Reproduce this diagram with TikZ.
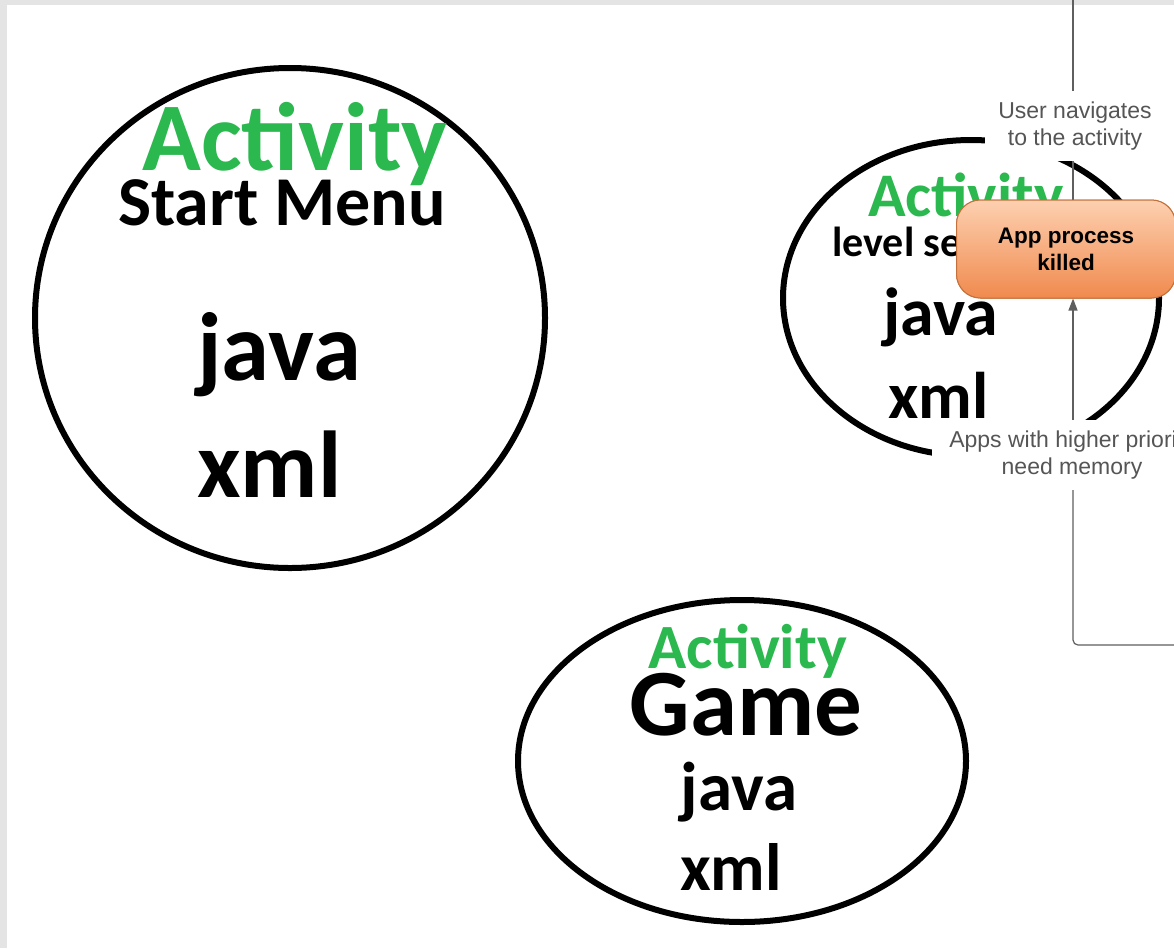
\documentclass[tikz,border=0pt]{standalone}
\usepackage{fontspec}
\setmainfont{Carlito}
\newfontfamily\labelfont{Liberation Sans}
\usetikzlibrary{arrows.meta,shapes.geometric}
\definecolor{actgreen}{RGB}{43,184,78}
\definecolor{linegray}{RGB}{95,95,95}
\definecolor{labgray}{RGB}{85,85,85}
\definecolor{framegray}{RGB}{228,228,228}
\definecolor{killtop}{RGB}{253,208,176}
\definecolor{killbot}{RGB}{240,138,78}
\definecolor{killedge}{RGB}{196,112,58}
\tikzset{
  bubble/.style={draw=black, line width=6pt, ellipse, inner sep=0pt},
  bigtxt/.style={inner sep=0pt, font=\bfseries\fontsize{#1}{#1}\selectfont},
  greentxt/.style={bigtxt=#1, text=actgreen},
  flow/.style={draw=linegray, line width=1.2pt},
  flowlabel/.style={fill=white, inner sep=0pt, align=center, text=labgray,
    font=\labelfont\fontsize{23}{27}\selectfont},
  killbox/.style={rounded corners=24pt, draw=killedge, line width=1pt,
    top color=killtop, bottom color=killbot, align=center,
    font=\labelfont\bfseries\fontsize{22.5}{27}\selectfont, text=black,
    minimum width=219pt, minimum height=98pt, inner sep=0pt}
}
\begin{document}
\begin{tikzpicture}[x=1pt,y=-1pt]
  % page frame
  \fill[framegray] (0,0) rectangle (1174,948);
  \fill[white] (7,5) rectangle (1174,948);
  \useasboundingbox (0,0) rectangle (1174,948);
  \clip (0,0) rectangle (1174,948);

  % Start Menu activity
  \node[bubble, minimum width=510pt, minimum height=500pt] (start) at (290,318) {};
  \node[greentxt=97, anchor=base] (startact) at (295,170) {Activity};
  \node[bigtxt=70, anchor=base] (startname) at (282,225) {Start Menu};
  \node[bigtxt=97, anchor=base west] (startjava) at (197,380) {java};
  \node[bigtxt=95, anchor=base west] (startxml) at (197,497) {xml};

  % Level select activity
  \node[bubble, minimum width=376pt, minimum height=316pt] (level) at (971,298) {};
  \node[greentxt=62, anchor=base west] (levelact) at (868,216) {Activity};
  \node[bigtxt=42, anchor=base west] (levelname) at (832,256) {level select};
  \node[bigtxt=68, anchor=base west] (leveljava) at (883,335) {java};
  \node[bigtxt=66, anchor=base west] (levelxml) at (888,418) {xml};

  % Game activity
  \node[bubble, minimum width=448pt, minimum height=322pt] (game) at (742,761) {};
  \node[greentxt=63, anchor=base] (gameact) at (748,668) {Activity};
  \node[bigtxt=95, anchor=base] (gamename) at (746,735) {Game};
  \node[bigtxt=69, anchor=base] (gamejava) at (739,810) {java};
  \node[bigtxt=67, anchor=base] (gamexml) at (731,890) {xml};

  % lifecycle flow on the right
  \coordinate (top) at (1073,0);
  \coordinate (rightend) at (1190,645);
  \node[killbox] (kill) at (1066,249) {App process\\killed};
  \draw[flow] (top) -- (kill.north -| top);
  \node[flowlabel, minimum width=180pt, minimum height=70pt] (nav) at (1075,126)
    {User navigates\\to the activity};
  \node[flowlabel, minimum width=280pt, minimum height=70pt] (mem) at (1072,455)
    {Apps with higher priority\\need memory};
  \draw[flow, -{Triangle[length=12pt,width=9pt]}] (mem.north -| top) -- (kill.south -| top);
  \draw[flow, rounded corners=5pt] (mem.south -| top) |- (rightend);
  \node[killbox] at (kill.center) {App process\\killed};
\end{tikzpicture}
\end{document}
